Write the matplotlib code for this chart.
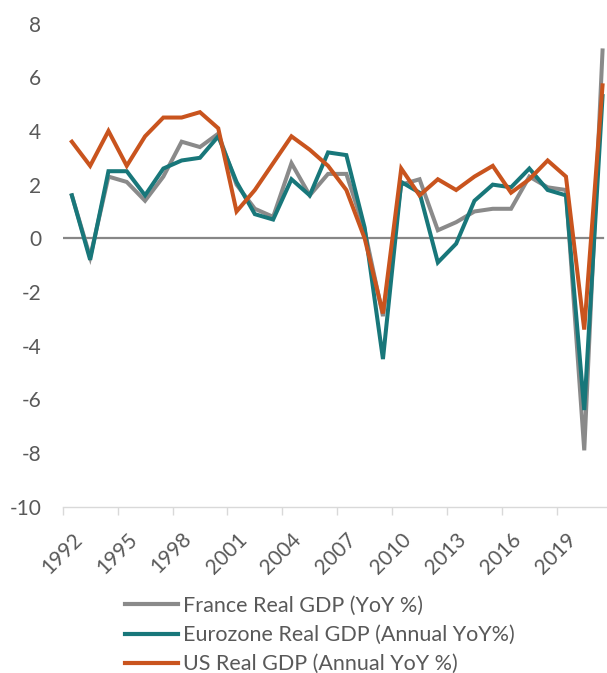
import matplotlib
matplotlib.use("Agg")
import matplotlib.pyplot as plt
import numpy as np

years = list(range(1992, 2022))
france = [1.6, -0.7, 2.3, 2.1, 1.4, 2.3, 3.6, 3.4, 3.9, 2.0, 1.1, 0.8, 2.8, 1.6, 2.4,
          2.4, 0.3, -2.9, 2.0, 2.2, 0.3, 0.6, 1.0, 1.1, 1.1, 2.3, 1.9, 1.8, -7.9, 7.0]
eurozone = [1.6, -0.8, 2.5, 2.5, 1.6, 2.6, 2.9, 3.0, 3.8, 2.1, 0.9, 0.7, 2.2, 1.6, 3.2,
            3.1, 0.4, -4.5, 2.1, 1.7, -0.9, -0.2, 1.4, 2.0, 1.9, 2.6, 1.8, 1.6, -6.4, 5.3]
us = [3.6, 2.7, 4.0, 2.7, 3.8, 4.5, 4.5, 4.7, 4.1, 1.0, 1.8, 2.8, 3.8, 3.3, 2.7,
      1.8, 0.0, -2.8, 2.6, 1.6, 2.2, 1.8, 2.3, 2.7, 1.7, 2.2, 2.9, 2.3, -3.4, 5.7]
tick_years = [1992, 1995, 1998, 2001, 2004, 2007, 2010, 2013, 2016, 2019]
y_ticks = [-10, -8, -6, -4, -2, 0, 2, 4, 6, 8]
labels = ["France Real GDP (YoY %)", "Eurozone Real GDP (Annual YoY%)",
          "US Real GDP (Annual YoY %)"]
colors = ["#8a8a8a", "#18777a", "#c9541e"]

plt.rcParams['font.family'] = ['Lato', 'DejaVu Sans']
W, H = 607, 673
fig = plt.figure(figsize=(W / 100, H / 100), dpi=100)

left_px, right_px = 62.7, 611.7
top_px, bot_px = 23.6, 506.7
ax = fig.add_axes([left_px / W, 1 - bot_px / H, (right_px - left_px) / W, (bot_px - top_px) / H])

for vals, c, lab in zip([france, eurozone, us], colors, labels):
    ax.plot(years, vals, color=c, lw=2.9, label=lab, solid_joinstyle='miter', zorder=3)

ax.set_xlim(years[0] - 0.5, years[-1] + 0.5)
ax.set_ylim(-10, 8)
ax.axhline(0, xmin=0, xmax=(603.3 - left_px) / (right_px - left_px), color="#878787", lw=1.6, zorder=2)

for s in ['top', 'right', 'left']:
    ax.spines[s].set_visible(False)
ax.spines['bottom'].set_color('#d9d9d9')
ax.spines['bottom'].set_linewidth(1.0)

ax.set_yticks(y_ticks)
ax.set_yticklabels([str(v) for v in y_ticks])
ax.tick_params(axis='y', length=0, pad=15.5, labelsize=15, labelcolor='#595959')

ax.set_xticks(tick_years)
ax.set_xticklabels([str(y) for y in tick_years], rotation=45, ha='right', va='top',
                   rotation_mode='anchor')
ax.tick_params(axis='x', which='major', length=0, pad=16, labelsize=15, labelcolor='#595959')
ax.set_xticks([y - 0.5 for y in tick_years] + [tick_years[-1] + 2.5], minor=True)
ax.tick_params(axis='x', which='minor', length=6, width=1.0, color='#d9d9d9', direction='out')

leg = fig.legend(loc='upper left', bbox_to_anchor=(125 / W, 1 - 596 / H), frameon=False,
                 fontsize=15.5, handlelength=2.45, handletextpad=0.23, labelspacing=0.42,
                 borderpad=0, borderaxespad=0)
for t in leg.get_texts():
    t.set_color('#595959')
for l in leg.get_lines():
    l.set_linewidth(3.0)

fig.savefig("out.png", dpi=100)
